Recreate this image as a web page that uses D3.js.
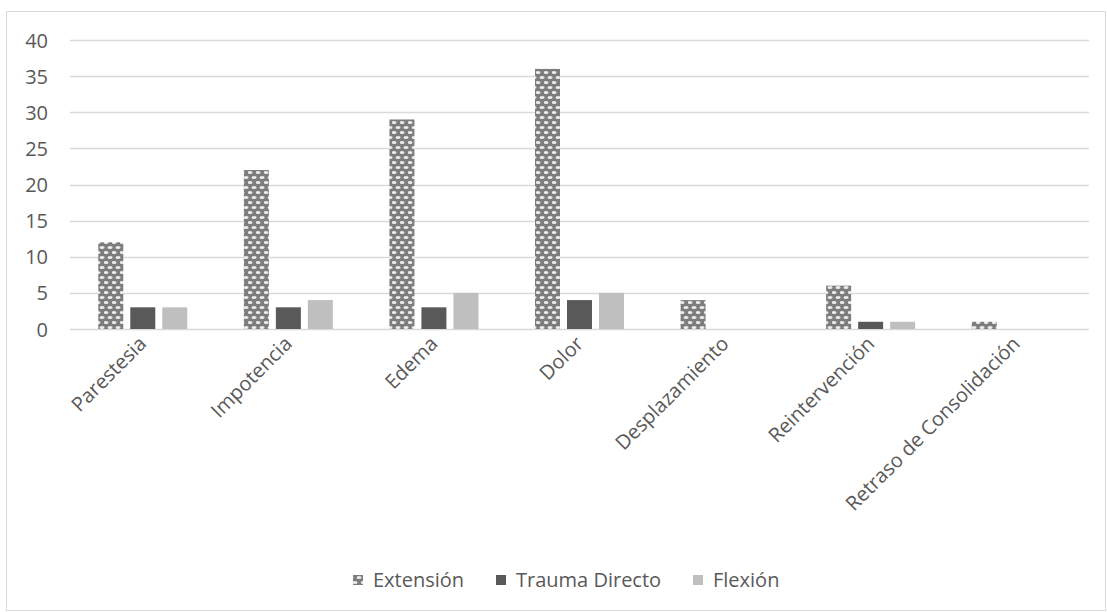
<!DOCTYPE html>
<html>
<head>
<meta charset="utf-8">
<script src="https://cdn.jsdelivr.net/npm/d3@7"></script>
<style>
  html, body { margin: 0; padding: 0; background: #fff; }
  svg { display: block; }
  text { font-family: "Open Sans", "Noto Sans", sans-serif; fill: #595959; }
</style>
</head>
<body>
<svg id="chart" width="1107" height="612"></svg>
<script>
// Complications by fracture mechanism
const categories = ["Parestesia", "Impotencia", "Edema", "Dolor", "Desplazamiento", "Reintervención", "Retraso de Consolidación"];
const seriesNames = ["Extensión", "Trauma Directo", "Flexión"];
const extension = [12, 22, 29, 36, 4, 6, 1];
const traumaDirecto = [3, 3, 3, 4, 0, 1, 0];
const flexion = [3, 4, 5, 5, 0, 1, 0];
const yTicks = [0, 5, 10, 15, 20, 25, 30, 35, 40];

const seriesValues = [extension, traumaDirecto, flexion];
const fills = ["url(#confetti)", "#595959", "#bfbfbf"];
const fontSize = 20;

const svg = d3.select("#chart");

// Patterned fill for the "Extensión" series: light ovals on mid gray
const defs = svg.append("defs");
const pat = defs.append("pattern")
  .attr("id", "confetti")
  .attr("patternUnits", "userSpaceOnUse")
  .attr("width", 8).attr("height", 10);
pat.append("rect").attr("width", 8).attr("height", 10).attr("fill", "#7d7d7d");
[[2, 2.5], [6, 7.5], [-2, 7.5], [10, 7.5]].forEach(([cx, cy]) => {
  pat.append("ellipse").attr("cx", cx).attr("cy", cy).attr("rx", 2.5).attr("ry", 1.5).attr("fill", "#ececec");
});

// Chart frame
svg.append("rect")
  .attr("x", 6.5).attr("y", 11.5).attr("width", 1099).attr("height", 599)
  .attr("fill", "none").attr("stroke", "#d9d9d9").attr("stroke-width", 1);

const plot = { left: 70, right: 1089, top: 40, bottom: 329 };

const x = d3.scaleBand().domain(categories).range([plot.left, plot.right]).paddingInner(0).paddingOuter(0);
const y = d3.scaleLinear().domain([0, 40]).range([plot.bottom, plot.top]);

const barWidth = 25;
const barStep = 32;

// Gridlines
svg.append("g")
  .selectAll("line")
  .data(yTicks)
  .join("line")
  .attr("x1", plot.left).attr("x2", plot.right)
  .attr("y1", d => Math.round(y(d)) + 0.5).attr("y2", d => Math.round(y(d)) + 0.5)
  .attr("stroke", "#d9d9d9").attr("stroke-width", 1.4);

// Y axis labels
const yAxis = d3.axisLeft(y).tickValues(yTicks).tickSize(0).tickPadding(0);
const yg = svg.append("g").attr("transform", `translate(48,0)`).call(yAxis);
yg.select(".domain").remove();
yg.selectAll("text")
  .attr("font-size", fontSize)
  .attr("font-family", "'Open Sans', sans-serif")
  .attr("fill", "#595959")
  .attr("dy", "0.35em");

// Bars
const groups = svg.append("g")
  .selectAll("g")
  .data(seriesValues)
  .join("g")
  .attr("fill", (d, i) => fills[i]);

groups.each(function (vals, si) {
  d3.select(this).selectAll("rect")
    .data(vals.map((v, ci) => ({ v, c: categories[ci] })))
    .join("rect")
    .attr("x", d => x(d.c) + x.bandwidth() / 2 + (si - 1) * barStep - barWidth / 2)
    .attr("width", barWidth)
    .attr("y", d => y(d.v))
    .attr("height", d => y(0) - y(d.v));
});

// X axis labels, rotated
const xAxis = d3.axisBottom(x).tickSize(0).tickPadding(0);
const xg = svg.append("g").attr("transform", `translate(0,${plot.bottom + 11})`).call(xAxis);
xg.select(".domain").remove();
xg.selectAll("text")
  .attr("font-size", fontSize)
  .attr("font-family", "'Open Sans', sans-serif")
  .attr("fill", "#595959")
  .attr("text-anchor", "end")
  .attr("dy", "0.35em")
  .attr("y", 0)
  .attr("transform", "rotate(-45)");

// Legend
const legendItems = [
  { name: seriesNames[0], fill: fills[0], x: 353 },
  { name: seriesNames[1], fill: fills[1], x: 496 },
  { name: seriesNames[2], fill: fills[2], x: 693 }
];
const lg = svg.append("g").selectAll("g").data(legendItems).join("g")
  .attr("transform", d => `translate(${d.x},580)`);
lg.append("rect").attr("x", 0).attr("y", -5).attr("width", 10).attr("height", 10).attr("fill", d => d.fill);
lg.append("text").attr("x", 20).attr("y", 0).attr("dy", "0.35em")
  .attr("font-size", fontSize).text(d => d.name);
</script>
</body>
</html>
